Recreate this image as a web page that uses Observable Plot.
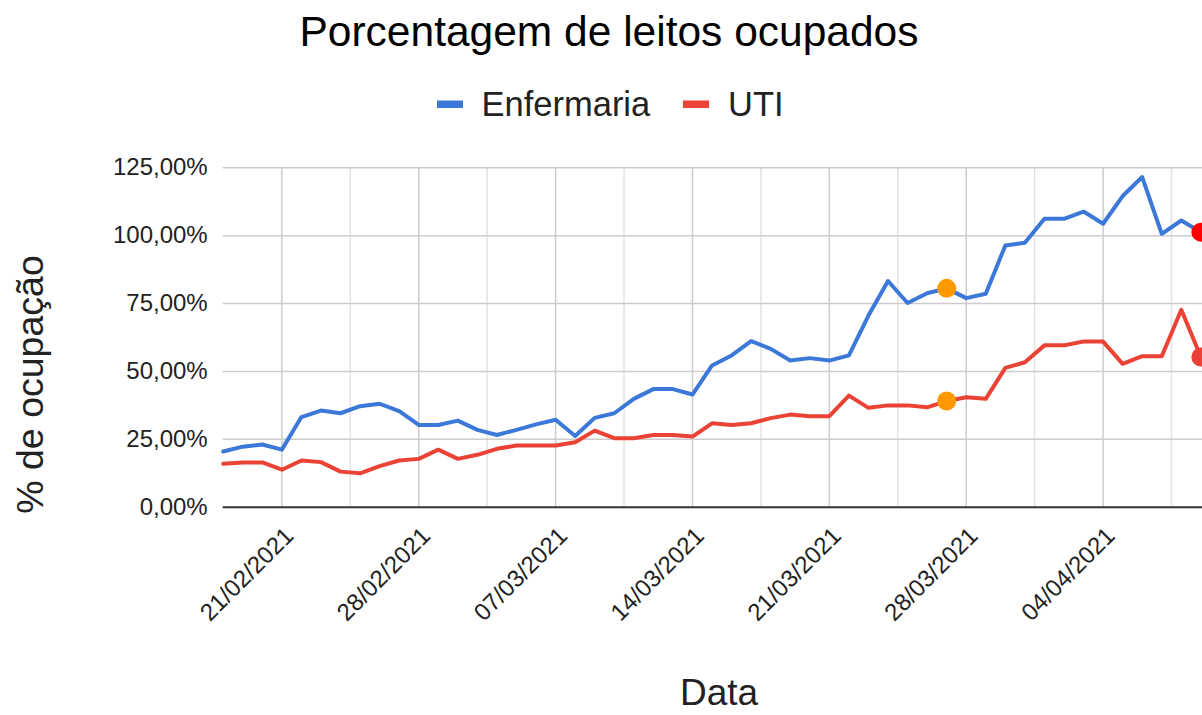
<!DOCTYPE html>
<html><head><meta charset="utf-8">
<script src="https://cdn.jsdelivr.net/npm/d3@7"></script>
<script src="https://cdn.jsdelivr.net/npm/@observablehq/plot@0.6"></script>
<style>
html,body{margin:0;padding:0;background:#fff;overflow:hidden}
#wrap{position:relative;width:1202px;height:715px;font-family:"Liberation Sans",Arial,sans-serif}
#chart{position:absolute;left:0;top:0}
#overlay{position:absolute;left:0;top:0;pointer-events:none}
</style></head><body>
<div id="wrap">
<div id="chart"></div>
<svg id="overlay" width="1202" height="715" font-family="Liberation Sans, Arial, sans-serif">
  <text x="609" y="46" text-anchor="middle" font-size="42.5" fill="#000">Porcentagem de leitos ocupados</text>
  <rect x="437" y="100.5" width="26" height="7.5" fill="#3c78d8"></rect>
  <text x="481.5" y="116" font-size="34.5" fill="#222">Enfermaria</text>
  <rect x="683" y="100.5" width="26" height="7.5" fill="#ea4335"></rect>
  <text x="728" y="116" font-size="34.5" fill="#222">UTI</text>
  <text transform="translate(43,384.5) rotate(-90)" text-anchor="middle" font-size="37.5" fill="#222">% de ocupação</text>
  <text x="719" y="705" text-anchor="middle" font-size="37" fill="#222">Data</text>
</svg>
</div>
<script>
// Daily dates (18/02/2021 – 09/04/2021)
const dates = [
  "2021-02-18","2021-02-19","2021-02-20","2021-02-21","2021-02-22","2021-02-23","2021-02-24","2021-02-25","2021-02-26","2021-02-27","2021-02-28",
  "2021-03-01","2021-03-02","2021-03-03","2021-03-04","2021-03-05","2021-03-06","2021-03-07","2021-03-08","2021-03-09","2021-03-10",
  "2021-03-11","2021-03-12","2021-03-13","2021-03-14","2021-03-15","2021-03-16","2021-03-17","2021-03-18","2021-03-19","2021-03-20",
  "2021-03-21","2021-03-22","2021-03-23","2021-03-24","2021-03-25","2021-03-26","2021-03-27","2021-03-28","2021-03-29","2021-03-30","2021-03-31",
  "2021-04-01","2021-04-02","2021-04-03","2021-04-04","2021-04-05","2021-04-06","2021-04-07","2021-04-08","2021-04-09"
];
// Enfermaria (% ocupação)
const enfermaria = [
  20.5,22.3,23.1,21.2,33.2,35.6,34.6,37.2,38.1,35.4,30.3,
  30.3,31.9,28.5,26.6,28.5,30.5,32.2,26.2,32.9,34.6,
  39.9,43.5,43.5,41.5,52.2,55.9,61.2,58.3,54.0,54.9,
  54.0,55.9,70.6,83.3,75.2,78.8,80.6,77.0,78.6,96.4,97.4,
  106.2,106.2,108.9,104.4,114.6,121.6,100.7,105.6,101.3
];
// UTI (% ocupação)
const uti = [
  16.0,16.5,16.5,13.8,17.2,16.6,13.1,12.5,15.1,17.2,17.8,
  21.2,17.8,19.3,21.5,22.7,22.7,22.7,23.9,28.2,25.4,
  25.4,26.6,26.6,26.0,30.9,30.3,30.9,32.8,34.1,33.5,
  33.5,41.1,36.6,37.5,37.5,36.8,39.1,40.5,39.9,51.3,53.4,
  59.6,59.6,61.0,61.0,52.8,55.6,55.6,72.7,55.3
];
const series = ["Enfermaria","UTI"];
const majorTicks = ["2021-02-21","2021-02-28","2021-03-07","2021-03-14","2021-03-21","2021-03-28","2021-04-04"];
const majorLabels = ["21/02/2021","28/02/2021","07/03/2021","14/03/2021","21/03/2021","28/03/2021","04/04/2021"];
const minorTicks = ["2021-02-24T12:00Z","2021-03-03T12:00Z","2021-03-10T12:00Z","2021-03-17T12:00Z","2021-03-24T12:00Z","2021-03-31T12:00Z","2021-04-07T12:00Z"];
const yTicks = [0,25,50,75,100,125];
const yLabels = ["0,00%","25,00%","50,00%","75,00%","100,00%","125,00%"];
const highlightMid = "2021-03-27";
const highlightEnd = "2021-04-09";

const rows = [];
dates.forEach((d,i) => {
  rows.push({date:new Date(d), value:enfermaria[i], serie:series[0]});
  rows.push({date:new Date(d), value:uti[i], serie:series[1]});
});
const iMid = dates.indexOf(highlightMid), iEnd = dates.indexOf(highlightEnd);
const dotsMid = [{date:new Date(highlightMid), value:enfermaria[iMid]},{date:new Date(highlightMid), value:uti[iMid]}];
const dotEndE = [{date:new Date(highlightEnd), value:enfermaria[iEnd]}];
const dotEndU = [{date:new Date(highlightEnd), value:uti[iEnd]}];

const chart = Plot.plot({
  width:1202, height:715,
  marginTop:167.3, marginBottom:208.3, marginLeft:222.7, marginRight:0,
  x:{type:"utc", domain:[new Date("2021-02-18T00:00Z"), new Date("2021-04-09T02:00Z")], axis:null},
  y:{domain:[0,125], axis:null},
  color:{domain:series, range:["#3c78d8","#ea4335"]},
  style:{fontFamily:"Liberation Sans, Arial, sans-serif", background:"transparent", overflow:"visible"},
  marks:[
    Plot.ruleX(minorTicks.map(d=>new Date(d)), {stroke:"#e3e3e3", strokeWidth:1.5}),
    Plot.ruleX(majorTicks.map(d=>new Date(d)), {stroke:"#cccccc", strokeWidth:1.5}),
    Plot.ruleY(yTicks.filter(v=>v>0), {stroke:"#cccccc", strokeWidth:1.5}),
    Plot.ruleY([0], {stroke:"#333333", strokeWidth:2}),
    Plot.text(yTicks, {y:d=>d, text:(d,i)=>yLabels[i], frameAnchor:"left", textAnchor:"end", dx:-15.5, fontSize:24, fill:"#222"}),
    Plot.text(majorTicks, {x:d=>new Date(d), text:(d,i)=>majorLabels[i], frameAnchor:"bottom", rotate:-45, textAnchor:"end", lineAnchor:"bottom", dx:13, dy:30, fontSize:24, fill:"#222"}),
    Plot.line(rows, {x:"date", y:"value", z:"serie", stroke:"serie", strokeWidth:4, strokeLinejoin:"round", strokeLinecap:"round"}),
    Plot.dot(dotsMid, {x:"date", y:"value", r:9.5, fill:"#ff9900", stroke:null}),
    Plot.dot(dotEndE, {x:"date", y:"value", r:9.5, fill:"#ff0000", stroke:null}),
    Plot.dot(dotEndU, {x:"date", y:"value", r:9.5, fill:"#ea4335", stroke:null})
  ]
});
document.getElementById("chart").appendChild(chart);
</script>
</body></html>
